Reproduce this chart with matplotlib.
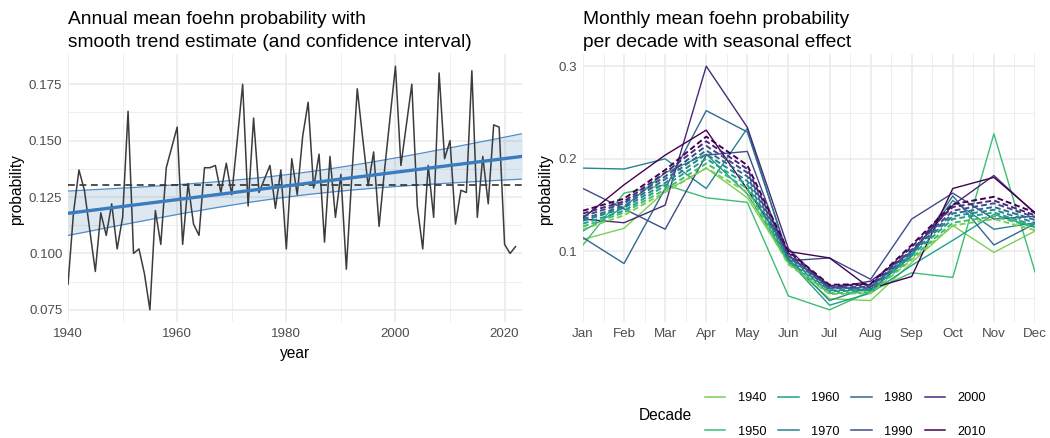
import numpy as np
import matplotlib
matplotlib.use("Agg")
import matplotlib.pyplot as plt
from matplotlib.lines import Line2D

plt.rcParams['font.family'] = ['Liberation Sans', 'DejaVu Sans']

# annual mean foehn probability
years = np.arange(1940, 2023)
foehn_annual = [
    0.0864, 0.118, 0.137, 0.128, 0.110, 0.092, 0.118, 0.108, 0.122, 0.102,
    0.116, 0.163, 0.100, 0.102, 0.091, 0.075, 0.119, 0.104, 0.138, 0.147,
    0.156, 0.104, 0.131, 0.113, 0.108, 0.138, 0.138, 0.139, 0.127, 0.140,
    0.126, 0.150, 0.175, 0.121, 0.160, 0.127, 0.133, 0.139, 0.120, 0.137,
    0.102, 0.142, 0.126, 0.152, 0.167, 0.129, 0.144, 0.105, 0.143, 0.116,
    0.135, 0.093, 0.134, 0.173, 0.151, 0.130, 0.145, 0.112, 0.137, 0.160,
    0.183, 0.139, 0.157, 0.175, 0.121, 0.102, 0.139, 0.116, 0.180, 0.142,
    0.150, 0.113, 0.128, 0.127, 0.181, 0.116, 0.143, 0.122, 0.157, 0.156,
    0.104, 0.100, 0.103,
]

# monthly means per decade (observed)
months = ['Jan', 'Feb', 'Mar', 'Apr', 'May', 'Jun',
          'Jul', 'Aug', 'Sep', 'Oct', 'Nov', 'Dec']
decades = ['1940', '1950', '1960', '1970', '1980', '1990', '2000', '2010']

obs_1940 = [0.113, 0.125, 0.165, 0.190, 0.158, 0.088, 0.049, 0.047, 0.088, 0.128, 0.099, 0.122]
obs_1950 = [0.107, 0.163, 0.172, 0.158, 0.153, 0.052, 0.037, 0.057, 0.077, 0.072, 0.227, 0.078]
obs_1960 = [0.122, 0.148, 0.185, 0.205, 0.162, 0.090, 0.042, 0.055, 0.085, 0.112, 0.140, 0.126]
obs_1970 = [0.190, 0.189, 0.200, 0.168, 0.233, 0.092, 0.047, 0.062, 0.097, 0.155, 0.124, 0.131]
obs_1980 = [0.115, 0.087, 0.168, 0.252, 0.229, 0.095, 0.062, 0.058, 0.095, 0.160, 0.107, 0.130]
obs_1990 = [0.168, 0.146, 0.124, 0.204, 0.208, 0.090, 0.093, 0.070, 0.135, 0.163, 0.135, 0.138]
obs_2000 = [0.135, 0.131, 0.150, 0.300, 0.234, 0.103, 0.060, 0.068, 0.100, 0.150, 0.182, 0.141]
obs_2010 = [0.136, 0.172, 0.204, 0.231, 0.167, 0.100, 0.093, 0.060, 0.073, 0.168, 0.180, 0.142]

# fitted values with seasonal effect
fit_1940 = [0.124, 0.139, 0.164, 0.190, 0.164, 0.086, 0.054, 0.055, 0.091, 0.128, 0.135, 0.123]
fit_1950 = [0.127, 0.142, 0.167, 0.195, 0.168, 0.088, 0.055, 0.056, 0.093, 0.131, 0.138, 0.126]
fit_1960 = [0.130, 0.144, 0.171, 0.200, 0.172, 0.090, 0.057, 0.058, 0.096, 0.135, 0.142, 0.128]
fit_1970 = [0.133, 0.147, 0.174, 0.205, 0.176, 0.092, 0.058, 0.059, 0.098, 0.138, 0.145, 0.131]
fit_1980 = [0.135, 0.149, 0.178, 0.209, 0.181, 0.094, 0.060, 0.061, 0.100, 0.141, 0.148, 0.134]
fit_1990 = [0.138, 0.152, 0.181, 0.214, 0.185, 0.096, 0.061, 0.062, 0.102, 0.144, 0.152, 0.137]
fit_2000 = [0.141, 0.154, 0.185, 0.219, 0.189, 0.098, 0.063, 0.064, 0.105, 0.148, 0.155, 0.139]
fit_2010 = [0.144, 0.157, 0.188, 0.224, 0.193, 0.100, 0.064, 0.065, 0.107, 0.151, 0.159, 0.142]

observed = [obs_1940, obs_1950, obs_1960, obs_1970, obs_1980, obs_1990, obs_2000, obs_2010]
fitted = [fit_1940, fit_1950, fit_1960, fit_1970, fit_1980, fit_1990, fit_2000, fit_2010]

GRID = '#EBEBEB'
TICK = '#4D4D4D'


def style_axes(ax):
    for s in ax.spines.values():
        s.set_visible(False)
    ax.set_axisbelow(True)
    ax.grid(which='major', color=GRID, lw=1.2)
    ax.grid(which='minor', color=GRID, lw=0.6)
    ax.tick_params(which='both', length=0, labelcolor=TICK, labelsize=9.6)
    ax.tick_params(axis='x', pad=4)
    ax.tick_params(axis='y', pad=4)


fig = plt.figure(figsize=(10.5, 4.38), dpi=100)
ax1 = fig.add_axes([0.0648, 0.2648, 0.4324, 0.6119])
ax2 = fig.add_axes([0.5552, 0.2648, 0.4305, 0.6119])

# --- left: annual series with linear trend + 95% CI
x = years.astype(float)
y = np.array(foehn_annual)
coef = np.polyfit(x, y, 1)
xx = np.linspace(1940, 2023.2, 200)
trend = np.polyval(coef, xx)
resid = y - np.polyval(coef, x)
n = len(x)
s = np.sqrt(np.sum(resid ** 2) / (n - 2))
t975 = 1.99
se = s * np.sqrt(1.0 / n + (xx - x.mean()) ** 2 / np.sum((x - x.mean()) ** 2))
lo, hi = trend - t975 * se, trend + t975 * se

ax1.fill_between(xx, lo, hi, color='#4682B4', alpha=0.18, lw=0)
ax1.plot(xx, lo, color='#4F8DCB', lw=0.9)
ax1.plot(xx, hi, color='#4F8DCB', lw=0.9)
ax1.axhline(y.mean(), color='#222222', lw=1.1, ls=(0, (4.5, 3)))
ax1.plot(x, y, color='#3C3C3C', lw=1.1)
ax1.plot(xx, trend, color='#3A7DBF', lw=2.4)

pad = 0.05 * (y.max() - y.min())
ax1.set_xlim(1940, 2023.2)
ax1.set_ylim(y.min() - pad, y.max() + pad)
ax1.set_xticks([1940, 1960, 1980, 2000, 2020])
ax1.set_xticks([1950, 1970, 1990, 2010], minor=True)
yt = [0.075, 0.100, 0.125, 0.150, 0.175]
ax1.set_yticks(yt)
ax1.set_yticklabels([f'{v:.3f}' for v in yt])
ax1.set_yticks([0.0875, 0.1125, 0.1375, 0.1625], minor=True)
style_axes(ax1)

# --- right: monthly means per decade
colors = plt.cm.viridis(np.linspace(0.8, 0.0, len(decades)))
mx = np.arange(1, 13)
for obs, c in zip(observed, colors):
    ax2.plot(mx, obs, color=c, lw=1.0)
for fit, c in zip(fitted, colors):
    ax2.plot(mx, fit, color=c, lw=1.4, ls=(0, (3, 1.6)))

allv = np.concatenate([np.array(observed).ravel(), np.array(fitted).ravel()])
pad2 = 0.05 * (allv.max() - allv.min())
ax2.set_xlim(1, 12)
ax2.set_ylim(allv.min() - pad2, allv.max() + pad2)
ax2.set_xticks(mx)
ax2.set_xticklabels(months)
ax2.set_xticks(mx[:-1] + 0.5, minor=True)
ax2.set_yticks([0.1, 0.2, 0.3])
ax2.set_yticklabels(['0.1', '0.2', '0.3'])
ax2.set_yticks([0.05, 0.15, 0.25], minor=True)
style_axes(ax2)

# titles and axis labels
fig.text(68 / 1050, 1 - 24 / 438, 'Annual mean foehn probability with',
         fontsize=13.8, va='baseline', ha='left')
fig.text(68 / 1050, 1 - 47 / 438, 'smooth trend estimate (and confidence interval)',
         fontsize=13.8, va='baseline', ha='left')
fig.text(583 / 1050, 1 - 24 / 438, 'Monthly mean foehn probability',
         fontsize=13.8, va='baseline', ha='left')
fig.text(583 / 1050, 1 - 47 / 438, 'per decade with seasonal effect',
         fontsize=13.8, va='baseline', ha='left')

fig.text(295 / 1050, 1 - 358 / 438, 'year', fontsize=11.2, ha='center', va='baseline')
fig.text(17 / 1050, 1 - 190 / 438, 'probability', fontsize=11.2, rotation=90,
         ha='center', va='center')
fig.text(546 / 1050, 1 - 190 / 438, 'probability', fontsize=11.2, rotation=90,
         ha='center', va='center')

# legend
handles = [Line2D([], [], color=c, lw=1.1) for c in colors]
fig.text(639 / 1050, 1 - 416 / 438, 'Decade', fontsize=11.2, ha='left', va='center')
fig.legend(handles, decades, ncol=4, frameon=False, fontsize=9.2,
           loc='center left', bbox_to_anchor=(705 / 1050, 1 - 415 / 438),
           borderpad=0, handlelength=1.6, handletextpad=0.95,
           columnspacing=0.95, labelspacing=1.65, borderaxespad=0)

fig.savefig('out.png', dpi=100)
